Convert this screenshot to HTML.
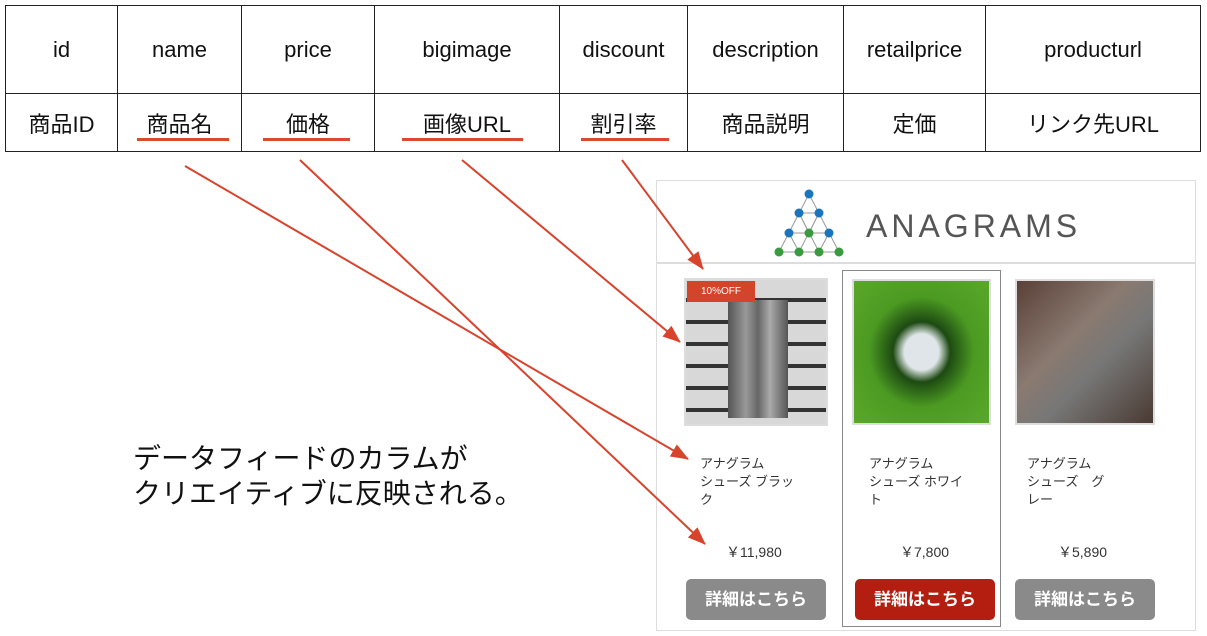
<!DOCTYPE html>
<html><head><meta charset="utf-8"><style>
body{margin:0;width:1207px;height:636px;background:#fff;position:relative;overflow:hidden;font-family:"Liberation Sans","Noto Sans CJK JP",sans-serif}
.a{position:absolute}
table{position:absolute;left:5px;top:5px;border-collapse:collapse}
td{border:1.5px solid #222;text-align:center;font-size:22px;color:#111;padding:0}
.u{position:absolute;height:3px;background:#d84a32;top:138px}
.nm{position:absolute;font-size:13px;line-height:18px;color:#333}
.pr{position:absolute;font-size:14px;color:#333;top:542px}
.btn{position:absolute;top:579px;width:140px;height:41px;border-radius:5px;background:#8a8a8a;color:#fff;font-weight:bold;font-size:17px;text-align:center;line-height:41px}
.img{position:absolute;border:2px solid #ddd;box-sizing:border-box}
</style></head><body>
<table><tr style="height:88px"><td style="width:111px">id</td><td style="width:123px">name</td><td style="width:132px">price</td><td style="width:184px">bigimage</td><td style="width:127px">discount</td><td style="width:155px">description</td><td style="width:141px">retailprice</td><td style="width:214px">producturl</td></tr>
<tr style="height:58px"><td>商品ID</td><td>商品名</td><td>価格</td><td>画像URL</td><td>割引率</td><td>商品説明</td><td>定価</td><td>リンク先URL</td></tr></table>
<div class="u" style="left:137px;width:92px"></div>
<div class="u" style="left:263px;width:87px"></div>
<div class="u" style="left:402px;width:121px"></div>
<div class="u" style="left:581px;width:88px"></div>

<div class="a" style="left:656px;top:180px;width:540px;height:451px;border:1.5px solid #ddd;box-sizing:border-box"></div>
<div class="a" style="left:657px;top:262px;width:539px;height:1.5px;background:#ddd"></div>
<svg class="a" style="left:770px;top:188px" width="80" height="70">
<g stroke="#999" stroke-width="1" fill="none">
<path d="M39,6 L9,64 M39,6 L69,64 M29,25 L49,25 M19,45 L59,45 M9,64 L69,64 M29,25 L49,64 M49,25 L29,64 M19,45 L29,64 M59,45 L49,64 M29,25 L39,45 M49,25 L39,45"/></g>
<g fill="#1b75bc"><circle cx="39" cy="6" r="4.5"/><circle cx="29" cy="25" r="4.5"/><circle cx="49" cy="25" r="4.5"/><circle cx="19" cy="45" r="4.5"/><circle cx="59" cy="45" r="4.5"/></g>
<g fill="#3a9a3f"><circle cx="39" cy="45" r="4.5"/><circle cx="9" cy="64" r="4.5"/><circle cx="29" cy="64" r="4.5"/><circle cx="49" cy="64" r="4.5"/><circle cx="69" cy="64" r="4.5"/></g></svg>
<div class="a" style="left:866px;top:208px;font-size:32px;letter-spacing:4px;color:#555">ANAGRAMS</div>

<div class="img" style="left:684px;top:278px;width:144px;height:148px;background:repeating-linear-gradient(180deg,#d8d8d8 0 18px,#333 18px 22px),#ccc"><div class="a" style="left:42px;top:20px;width:60px;height:118px;background:linear-gradient(90deg,#555,#999 30%,#666 50%,#aaa 70%,#555)"></div></div>
<div class="a" style="left:687px;top:281px;width:68px;height:21px;background:#d2452a;color:#fff;font-size:10px;line-height:21px;text-align:center">10%OFF</div>
<div class="a" style="left:842px;top:270px;width:159px;height:357px;border:1.5px solid #888;box-sizing:border-box"></div>
<div class="img" style="left:852px;top:279px;width:139px;height:146px;background:radial-gradient(ellipse at 50% 50%,#dfe5e8 0 18%,#1d4a12 30%,#4c9a22 55%,#5aa82a)"></div>
<div class="img" style="left:1015px;top:279px;width:140px;height:146px;background:linear-gradient(135deg,#5a4038,#8a7a70 40%,#777 60%,#4a3a32)"></div>

<div class="nm" style="left:700px;top:455px">アナグラム<br>シューズ ブラッ<br>ク</div>
<div class="nm" style="left:869px;top:455px">アナグラム<br>シューズ ホワイ<br>ト</div>
<div class="nm" style="left:1027px;top:455px">アナグラム<br>シューズ　グ<br>レー</div>
<div class="pr" style="left:726px">￥11,980</div>
<div class="pr" style="left:900px">￥7,800</div>
<div class="pr" style="left:1058px">￥5,890</div>
<div class="btn" style="left:686px">詳細はこちら</div>
<div class="btn" style="left:855px;background:#b31e10">詳細はこちら</div>
<div class="btn" style="left:1015px">詳細はこちら</div>

<div class="a" style="left:133px;top:441px;font-size:28px;line-height:35px;color:#111">データフィードのカラムが<br>クリエイティブに反映される。</div>

<svg class="a" style="left:0;top:0" width="1207" height="636">
<defs><marker id="h" markerWidth="18" markerHeight="14" refX="17" refY="7" orient="auto" markerUnits="userSpaceOnUse"><path d="M0,0 L18,7 L0,14 Z" fill="#d8432c"/></marker></defs>
<g stroke="#d8432c" stroke-width="2" fill="none">
<line x1="185" y1="166" x2="688" y2="459" marker-end="url(#h)"/>
<line x1="300" y1="160" x2="705" y2="544" marker-end="url(#h)"/>
<line x1="462" y1="160" x2="680" y2="342" marker-end="url(#h)"/>
<line x1="622" y1="160" x2="703" y2="269" marker-end="url(#h)"/>
</g></svg>
</body></html>
